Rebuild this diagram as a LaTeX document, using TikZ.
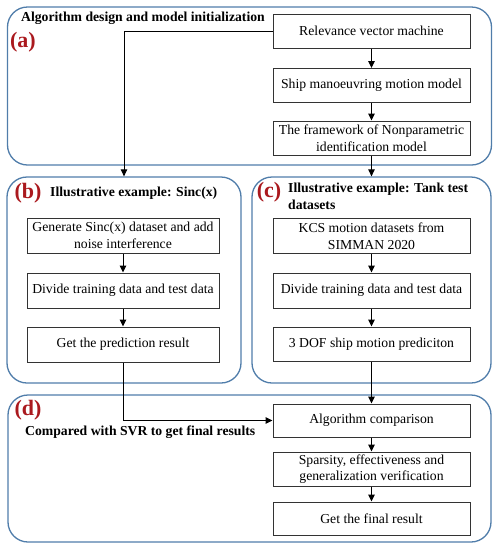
\documentclass[tikz,border=0pt]{standalone}
\usepackage{fontspec}
\setmainfont{Liberation Serif}
\usetikzlibrary{arrows.meta}
\definecolor{grpblue}{RGB}{80,125,170}
\definecolor{lblred}{RGB}{170,25,30}

\begin{document}
\begin{tikzpicture}[x=1pt,y=-1pt,
   font=\fontsize{13.7}{16.5}\selectfont,
   stepbox/.style={draw=black!80,line width=1pt,minimum width=197pt,minimum height=34pt,inner sep=1pt,align=center},
   group/.style={draw=grpblue,line width=1.3pt,rounded corners=20pt,inner sep=0pt},
   tag/.style={text=lblred,font=\fontsize{22}{24}\bfseries\selectfont,inner sep=0pt},
   head/.style={font=\fontsize{13.7}{16.5}\bfseries\selectfont,inner sep=0pt,align=left},
   flow/.style={-{Triangle[length=7pt,width=6.5pt]},line width=1pt}]
   \useasboundingbox (0,0) rectangle (498,550);

   % group frames
   \node[group,minimum width=484pt,minimum height=158pt] (ga) at (249.5,86) {};
   \node[group,minimum width=234pt,minimum height=206pt] (gb) at (124,280) {};
   \node[group,minimum width=239pt,minimum height=206pt] (gc) at (371.5,280) {};
   \node[group,minimum width=483pt,minimum height=147pt] (gd) at (249.5,468.5) {};

   \node[tag] (ta) at (23,42) {(a)};
   \node[tag] (tb) at (28,193) {(b)};
   \node[tag] (tc) at (269,192) {(c)};
   \node[tag] (td) at (28,410) {(d)};
   \node[head,anchor=west] (ha) at (21,18) {Algorithm design and model initialization};
   \node[head,anchor=west] (hb) at (50,193) {Illustrative example: Sinc(x)};
   \node[head,anchor=north west] (hc) at (288,183) {Illustrative example: Tank test\\datasets};
   \node[head,anchor=west] (hd) at (25,432) {Compared with SVR to get final results};

   \node[stepbox] (a1) at (371.5,31) {Relevance vector machine};
   \node[stepbox] (a2) at (371.5,85.5) {Ship manoeuvring motion model};
   \node[stepbox] (a3) at (371.5,138) {The framework of Nonparametric\\identification model};

   \node[stepbox,minimum width=192pt,minimum height=35pt] (b1) at (123,235.5) {Generate Sinc(x) dataset and add\\noise interference};
   \node[stepbox,minimum width=192pt,minimum height=35pt] (b2) at (123,290.5) {Divide training data and test data};
   \node[stepbox,minimum width=192pt,minimum height=35pt] (b3) at (123,344.5) {Get the prediction result};

   \node[stepbox,minimum height=35pt] (c1) at (371.5,236) {KCS motion datasets from\\SIMMAN 2020};
   \node[stepbox,minimum height=35pt] (c2) at (371.5,290.5) {Divide training data and test data};
   \node[stepbox] (c3) at (371.5,344) {3 DOF ship motion prediciton};

   \node[stepbox,minimum height=33pt] (d1) at (371.5,420.5) {Algorithm comparison};
   \node[stepbox] (d2) at (371.5,469) {Sparsity, effectiveness and\\generalization verification};
   \node[stepbox,minimum height=33pt] (d3) at (371.5,518.5) {Get the final result};

   \draw[flow] (a1) -- (a2);
   \draw[flow] (a2) -- (a3);
   \draw[flow] (a3) -- (gc.north);
   \draw[flow] (a1.west) -| (gb.north);
   \draw[flow] (b1) -- (b2);
   \draw[flow] (b2) -- (b3);
   \draw[flow] (c1) -- (c2);
   \draw[flow] (c2) -- (c3);
   \draw[flow] (c3) -- (d1);
   \draw[flow] (b3.south) |- (d1.west);
   \draw[flow] (d1) -- (d2);
   \draw[flow] (d2) -- (d3);
\end{tikzpicture}
\end{document}
